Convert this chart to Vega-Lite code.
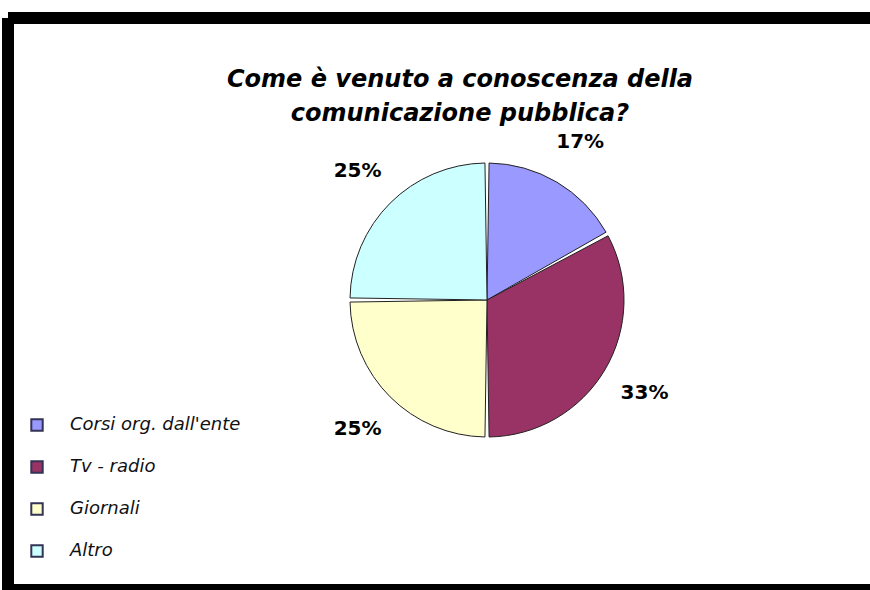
{
  "$schema": "https://vega.github.io/schema/vega-lite/v6.json",
  "autosize": {"type": "fit", "contains": "padding"},
  "width": 870,
  "height": 590,
  "padding": {"left": 8, "top": 18, "right": 0, "bottom": 0},
  "background": "white",
  "view": {"stroke": "black", "strokeWidth": 12, "strokeDash": [862, 572, 1434, 0], "strokeCap": "butt", "fill": "white"},
  "title": {
    "text": ["Come è venuto a conoscenza della", "comunicazione pubblica?"],
    "font": "DejaVu Sans",
    "fontSize": 24,
    "fontWeight": "bold",
    "fontStyle": "italic",
    "color": "black",
    "anchor": "middle",
    "orient": "top",
    "offset": -108,
    "dx": 21,
    "lineHeight": 34
  },
  "data": {
    "values": [
      {"categoria": "Corsi org. dall'ente", "valore": 17, "etichetta": "17%", "ordine": 1},
      {"categoria": "Tv - radio", "valore": 33, "etichetta": "33%", "ordine": 2},
      {"categoria": "Giornali", "valore": 25, "etichetta": "25%", "ordine": 3},
      {"categoria": "Altro", "valore": 25, "etichetta": "25%", "ordine": 4}
    ]
  },
  "encoding": {
    "theta": {"field": "valore", "type": "quantitative", "stack": true},
    "order": {"field": "ordine", "type": "quantitative"},
    "x": {"datum": 0.5557, "type": "quantitative", "scale": {"domain": [0, 1], "nice": false, "zero": false}, "axis": null},
    "y": {"datum": 0.507, "type": "quantitative", "scale": {"domain": [0, 1], "nice": false, "zero": false}, "axis": null}
  },
  "layer": [
    {
      "mark": {"type": "arc", "outerRadius": 137, "stroke": "#222222", "strokeWidth": 1, "padAngle": 0.03},
      "encoding": {
        "color": {
          "field": "categoria",
          "type": "nominal",
          "scale": {
            "domain": ["Corsi org. dall'ente", "Tv - radio", "Giornali", "Altro"],
            "range": ["#9999FF", "#993366", "#FFFFCC", "#CCFFFF"]
          },
          "legend": {
            "title": null,
            "orient": "none",
            "legendX": 20,
            "legendY": 398,
            "symbolType": "square",
            "symbolSize": 130,
            "symbolStrokeColor": "#333355",
            "symbolStrokeWidth": 2,
            "labelFont": "DejaVu Sans",
            "labelFontStyle": "italic",
            "labelFontSize": 18,
            "labelColor": "#111111",
            "labelOffset": 24,
            "labelLimit": 0,
            "rowPadding": 22
          }
        }
      }
    },
    {
      "mark": {"type": "text", "radius": 183, "font": "DejaVu Sans", "fontSize": 20, "fontWeight": "bold", "color": "black"},
      "encoding": {
        "text": {"field": "etichetta", "type": "nominal"}
      }
    }
  ]
}
